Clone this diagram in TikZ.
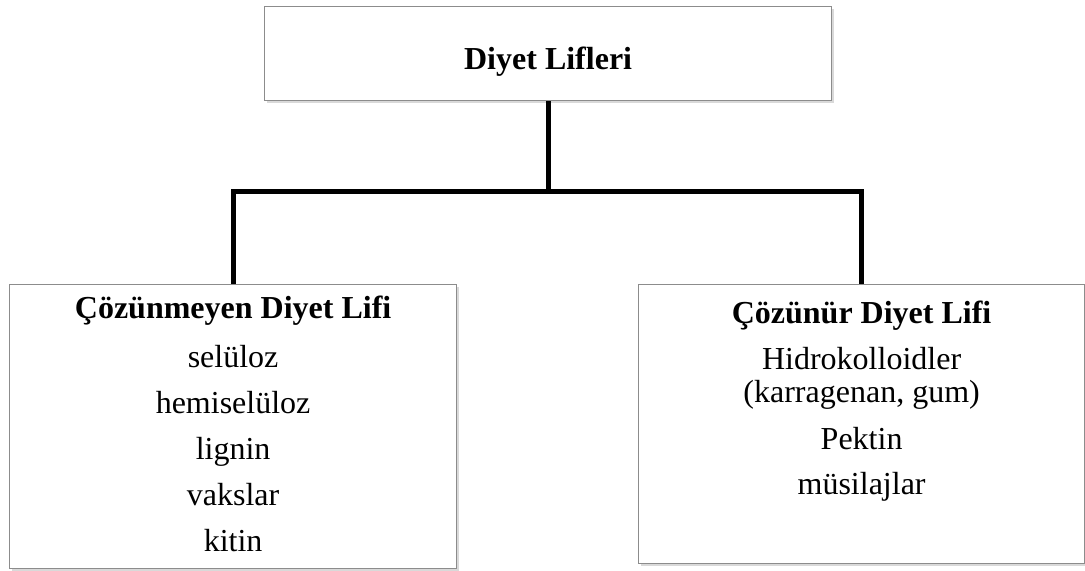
\documentclass[tikz,border=0pt]{standalone}
\usepackage{fontspec}
\setmainfont{Liberation Serif}
\usetikzlibrary{positioning, shadows}

\begin{document}
\begin{tikzpicture}[
    x=0.5pt, y=-0.5pt,
    catbox/.style={rectangle, draw=black!45, line width=0.6pt, fill=white,
                   inner sep=0pt, anchor=north west,
                   drop shadow={shadow xshift=1.2pt, shadow yshift=-1.2pt,
                                opacity=0.3}},
    catlabel/.style={align=center, inner sep=0pt,
                     font=\fontsize{16}{16.5}\selectfont},
    branch/.style={draw=black, line width=2.5pt}
]
\useasboundingbox (0,0) rectangle (1085,570);

% boxes
\node[catbox, minimum width=283.5pt, minimum height=47pt] (root) at (264,6) {};
\node[catbox, minimum width=223.5pt, minimum height=142pt] (insol) at (9,284) {};
\node[catbox, minimum width=223pt, minimum height=139.5pt] (sol) at (638,284) {};

% texts
\node[catlabel, anchor=base, font=\fontsize{16}{16.5}\selectfont\bfseries]
    (roottext) at ([yshift=-8pt]root.center) {Diyet Lifleri};
\node[catlabel, below=6pt of insol.north] (insoltext)
    {\textbf{Çözünmeyen Diyet Lifi}\\[8pt]
     selüloz\\[6.5pt] hemiselüloz\\[6.5pt] lignin\\[6.5pt] vakslar\\[6.5pt] kitin};
\node[catlabel, below=8.5pt of sol.north] (soltext)
    {\textbf{Çözünür Diyet Lifi}\\[6.5pt]
     Hidrokolloidler\\ (karragenan, gum)\\[7pt] Pektin\\[6pt] müsilajlar};

% connectors
\coordinate (split) at ([yshift=-45pt]root.south);
\draw[branch] (root.south) -- (split);
\draw[branch] (insol.north) |- (split) -| (sol.north);
\end{tikzpicture}
\end{document}
